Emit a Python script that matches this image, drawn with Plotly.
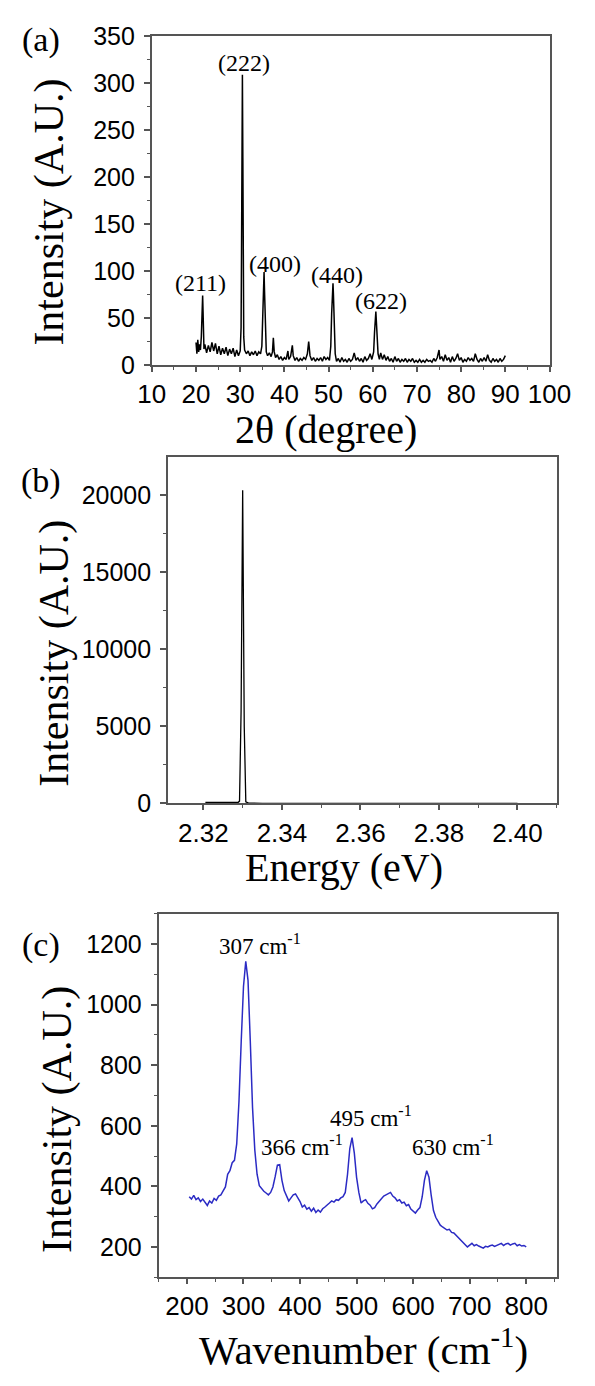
import plotly.graph_objects as go

W, H = 595, 1386

# ---------------- data ----------------
xrd_2theta = [20.0, 20.2, 20.4, 20.6, 20.8, 21.0, 21.2, 21.3, 21.4, 21.5, 21.6, 21.7, 21.8,
              22.0, 22.4, 22.8, 23.2, 23.6, 24.0, 24.4, 24.8, 25.2, 25.6, 26.0, 26.4, 26.8,
              27.2, 27.6, 28.0, 28.4, 28.8, 29.2, 29.6, 30.0, 30.2, 30.3, 30.4, 30.5, 30.6,
              30.7, 30.8, 31.0, 31.4, 31.8, 32.2, 32.6, 33.0, 33.4, 33.8, 34.2, 34.6, 34.9,
              35.1, 35.3, 35.4, 35.5, 35.7, 35.9, 36.2, 36.6, 37.0, 37.3, 37.5, 37.7, 38.0,
              38.4, 38.8, 39.2, 39.6, 40.0, 40.4, 40.8, 41.0, 41.4, 41.8, 42.0, 42.4, 42.8,
              43.2, 43.6, 44.0, 44.4, 44.8, 45.2, 45.5, 45.8, 46.2, 46.6, 47.0, 47.4, 47.8,
              48.2, 48.6, 49.0, 49.4, 49.8, 50.2, 50.5, 50.7, 50.9, 51.0, 51.1, 51.3, 51.5,
              51.8, 52.2, 52.6, 53.0, 53.4, 53.8, 54.2, 54.6, 55.0, 55.4, 55.8, 56.2, 56.6,
              57.0, 57.4, 57.8, 58.2, 58.6, 59.0, 59.4, 59.8, 60.2, 60.4, 60.6, 60.7, 60.8,
              61.0, 61.2, 61.5, 61.8, 62.2, 62.6, 63.0, 63.4, 63.8, 64.2, 64.6, 65.0, 65.4,
              65.8, 66.2, 66.6, 67.0, 67.4, 67.8, 68.2, 68.6, 69.0, 69.4, 69.8, 70.2, 70.6,
              71.0, 71.4, 71.8, 72.2, 72.6, 73.0, 73.4, 73.8, 74.2, 74.6, 75.0, 75.2, 75.6,
              76.0, 76.4, 76.8, 77.2, 77.6, 78.0, 78.4, 78.8, 79.2, 79.6, 80.0, 80.4, 80.8,
              81.2, 81.6, 82.0, 82.4, 82.8, 83.2, 83.6, 84.0, 84.4, 84.8, 85.2, 85.6, 86.0,
              86.4, 86.8, 87.2, 87.6, 88.0, 88.4, 88.8, 89.2, 89.6, 90.0]
xrd_intensity = [24, 12, 27, 14, 22, 16, 30, 48, 66, 74, 56, 32, 17,
                 22, 13, 21, 14, 24, 15, 23, 12, 20, 11, 18, 12, 19,
                 10, 17, 12, 18, 9, 16, 10, 15, 40, 120, 250, 309, 220,
                 90, 30, 16, 12, 15, 10, 14, 11, 15, 10, 14, 12, 20,
                 55, 90, 99, 80, 35, 14, 10, 13, 9, 14, 29, 14, 8,
                 11, 6, 9, 5, 8, 6, 15, 6, 9, 21, 10, 5, 8,
                 4, 7, 5, 8, 6, 12, 25, 10, 5, 8, 4, 7, 5,
                 8, 4, 9, 6, 8, 5, 20, 55, 82, 87, 75, 40, 12,
                 4, 7, 3, 8, 4, 6, 3, 7, 4, 6, 13, 5, 8,
                 4, 7, 3, 9, 5, 7, 12, 6, 14, 35, 52, 57, 48,
                 25, 12, 6, 13, 6, 11, 5, 9, 4, 7, 3, 9, 4,
                 7, 3, 6, 4, 7, 3, 6, 4, 7, 3, 5, 3, 6,
                 3, 5, 3, 6, 4, 5, 3, 7, 4, 8, 16, 6, 9,
                 4, 11, 5, 8, 3, 9, 4, 7, 12, 5, 8, 3, 6,
                 4, 8, 5, 7, 4, 12, 6, 3, 7, 4, 8, 4, 11,
                 5, 3, 7, 4, 6, 3, 7, 4, 6, 10]
xrd_peak_labels = ["(211)", "(222)", "(400)", "(440)", "(622)"]
xrd_label_x = [21.1, 30.9, 37.8, 51.8, 61.9]
xrd_label_y = [87, 321, 108, 96, 68]

pl_energy = [2.3205, 2.3230, 2.3260, 2.3280, 2.3288, 2.3292, 2.3296, 2.3300, 2.3304,
             2.3308, 2.3315, 2.3350, 2.3500, 2.3700, 2.3900, 2.4000]
pl_intensity = [60, 55, 50, 45, 60, 150, 6000, 20300, 5000, 100, 20, 8, 5, 3, 2, 2]

raman_wavenumber = [204, 208, 212, 216, 220, 224, 228, 232, 236, 240, 244, 248, 252, 256,
                    260, 264, 268, 272, 276, 280, 284, 288, 292, 296, 300, 304, 308, 312,
                    316, 320, 324, 328, 332, 336, 340, 344, 348, 352, 356, 360, 364, 368,
                    372, 376, 380, 384, 388, 392, 396, 400, 404, 408, 412, 416, 420, 424,
                    428, 432, 436, 440, 444, 448, 452, 456, 460, 464, 468, 472, 476, 480,
                    484, 488, 492, 496, 500, 504, 508, 512, 516, 520, 524, 528, 532, 536,
                    540, 544, 548, 552, 556, 560, 564, 568, 572, 576, 580, 584, 588, 592,
                    596, 600, 604, 608, 612, 616, 620, 624, 628, 632, 636, 640, 644, 648,
                    652, 656, 660, 664, 668, 672, 676, 680, 684, 688, 692, 696, 700, 704,
                    708, 712, 716, 720, 724, 728, 732, 736, 740, 744, 748, 752, 756, 760,
                    764, 768, 772, 776, 780, 784, 788, 792, 796, 800]
raman_intensity = [366, 358, 370, 356, 362, 350, 358, 346, 337, 352, 345, 360, 354, 368,
                   372, 385, 398, 440, 452, 478, 486, 540, 680, 880, 1060, 1143, 1080, 880,
                   660, 520, 440, 402, 392, 384, 378, 372, 380, 398, 432, 470, 472, 420,
                   386, 368, 352, 362, 372, 375, 362, 350, 332, 338, 325, 330, 318, 328,
                   314, 322, 315, 326, 332, 340, 345, 352, 348, 356, 354, 362, 366, 380,
                   440, 525, 561, 510, 430, 380, 345, 352, 356, 344, 338, 326, 330, 342,
                   352, 362, 368, 372, 376, 380, 368, 362, 352, 356, 345, 348, 336, 340,
                   325, 318, 312, 322, 330, 365, 420, 452, 430, 370, 320, 298, 285, 272,
                   266, 262, 256, 258, 248, 246, 238, 232, 222, 214, 208, 200, 206, 212,
                   204, 208, 203, 200, 196, 202, 200, 204, 206, 202, 206, 208, 212, 205,
                   210, 212, 206, 210, 212, 204, 208, 203, 205, 200]
raman_peak_labels = ["307 cm<sup>-1</sup>", "366 cm<sup>-1</sup>",
                     "495 cm<sup>-1</sup>", "630 cm<sup>-1</sup>"]
raman_label_x = [329, 403, 525, 670]
raman_label_y = [1197, 534, 631, 534]

# ---------------- layout helpers (pixel -> paper) ----------------
def px(x):
    return x / W

def py(y):
    return 1 - y / H

FRAME = "#555555"
SANS = "Liberation Sans, Arial, sans-serif"
SERIF = "Liberation Serif, Times New Roman, serif"

def axis_common(**kw):
    d = dict(showline=True, linecolor=FRAME, linewidth=1.8, mirror=True,
             ticks="outside", tickcolor=FRAME, tickwidth=1.5, showgrid=False,
             zeroline=False, tickangle=0)
    d.update(kw)
    return d

fig = go.Figure()
fig.add_trace(go.Scatter(x=xrd_2theta, y=xrd_intensity, mode="lines",
                         line=dict(color="black", width=1.5), xaxis="x", yaxis="y"))
fig.add_trace(go.Scatter(x=pl_energy, y=pl_intensity, mode="lines",
                         line=dict(color="black", width=1.3), xaxis="x2", yaxis="y2"))
fig.add_trace(go.Scatter(x=raman_wavenumber, y=raman_intensity, mode="lines",
                         line=dict(color="#2b2bc4", width=1.5), xaxis="x3", yaxis="y3"))

minor = lambda dt: dict(ticks="outside", ticklen=3, dtick=dt, tickcolor=FRAME, tickwidth=1.2)
XT = dict(family=SANS, size=26, color="black")
YT = dict(family=SANS, size=25, color="black")

layout = dict(
    width=W, height=H, margin=dict(l=0, r=0, t=0, b=0),
    paper_bgcolor="white", plot_bgcolor="white", showlegend=False,
    xaxis=axis_common(domain=[px(146.7), px(570)], anchor="y", range=[10, 100],
                      tick0=10, dtick=10, ticklen=5, minor=minor(5),
                      tickfont=XT, ticklabelstandoff=0),
    yaxis=axis_common(domain=[py(358.3), py(22.7)], anchor="x", range=[0, 350],
                      tick0=0, dtick=50, ticklen=6, minor=minor(25),
                      tickfont=YT, ticklabelstandoff=4),
    xaxis2=axis_common(domain=[px(164), px(577.7)], anchor="y2", range=[2.311, 2.41],
                       tick0=2.32, dtick=0.02, ticklen=5, minor=minor(0.01),
                       tickformat=".2f", tickfont=XT, ticklabelstandoff=0),
    yaxis2=axis_common(domain=[py(805.7), py(451.7)], anchor="x2", range=[0, 22480],
                       tick0=0, dtick=5000, ticklen=6, minor=minor(2500),
                       tickformat="d", tickfont=YT, ticklabelstandoff=4),
    xaxis3=axis_common(domain=[px(154), px(577.7)], anchor="y3", range=[150, 854],
                       tick0=0, dtick=100, ticklen=5, minor=minor(50),
                       tickfont=XT, ticklabelstandoff=0),
    yaxis3=axis_common(domain=[py(1289.3), py(918.3)], anchor="x3", range=[100, 1300],
                       tick0=0, dtick=200, ticklen=6, minor=minor(100),
                       tickfont=YT, ticklabelstandoff=4),
)
fig.update_layout(**layout)

ann = []
def paper_text(text, x, y, size, angle=0):
    ann.append(dict(text=text, x=px(x), y=py(y), xref="paper", yref="paper",
                    xanchor="center", yanchor="middle", showarrow=False,
                    textangle=angle, font=dict(family=SERIF, size=size, color="black")))

# panel letters
paper_text("(a)", 28.5, 27, 34)
paper_text("(b)", 28.5, 477, 34)
paper_text("(c)", 29, 950, 34)
# axis titles
paper_text("Intensity (A.U.)", 38, 202, 42, -90)
paper_text("2θ (degree)", 332, 424, 40)
paper_text("Intensity (A.U.)", 43.6, 652, 42, -90)
paper_text("Energy (eV)", 351, 871, 40)
paper_text("Intensity (A.U.)", 46.5, 1128, 42, -90)
paper_text("Wavenumber (cm<sup>-1</sup>)", 372, 1360, 41)

for t, x, y in zip(xrd_peak_labels, xrd_label_x, xrd_label_y):
    ann.append(dict(text=t, x=x, y=y, xref="x", yref="y", showarrow=False,
                    xanchor="center", yanchor="middle",
                    font=dict(family=SERIF, size=24, color="black")))
for t, x, y in zip(raman_peak_labels, raman_label_x, raman_label_y):
    ann.append(dict(text=t, x=x, y=y, xref="x3", yref="y3", showarrow=False,
                    xanchor="center", yanchor="middle",
                    font=dict(family=SERIF, size=23, color="black")))

fig.update_layout(annotations=ann)
fig.write_html("out.html")
